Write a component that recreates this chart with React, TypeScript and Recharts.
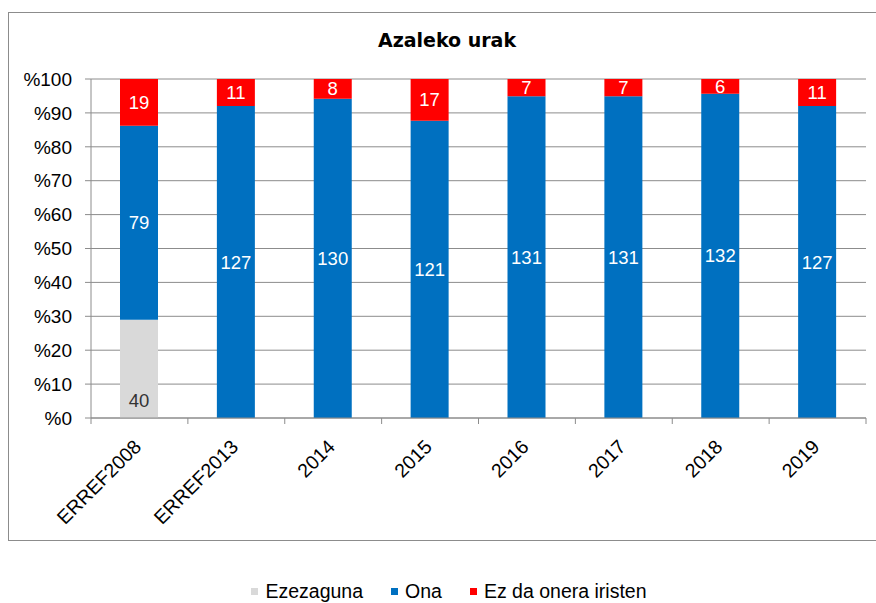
import React from "react";
import { BarChart, Bar, XAxis, YAxis, CartesianGrid, Legend } from "recharts";

const categories = ["ERREF2008", "ERREF2013", "2014", "2015", "2016", "2017", "2018", "2019"];
const ezezaguna = [40, 0, 0, 0, 0, 0, 0, 0];
const ona = [79, 127, 130, 121, 131, 131, 132, 127];
const ezOnera = [19, 11, 8, 17, 7, 7, 6, 11];
const yTicks = [0, 0.1, 0.2, 0.3, 0.4, 0.5, 0.6, 0.7, 0.8, 0.9, 1];

const seriesNames = ["Ezezaguna", "Ona", "Ez da onera iristen"];
const COLORS = { grey: "#d9d9d9", blue: "#0070c0", red: "#ff0000" };
const AXIS = "#8c8c8c";
const FONT = "'Liberation Sans', Arial, sans-serif";

const data = categories.map((cat, i) => ({
  cat,
  ezezaguna: ezezaguna[i],
  ona: ona[i],
  ezOnera: ezOnera[i],
}));

const PLOT_LEFT = 91;
const PLOT_RIGHT = 866;
const halfBand = (PLOT_RIGHT - PLOT_LEFT) / categories.length / 2;

function makeLabel(values: number[], color: string, bottom = false) {
  return (props: any) => {
    const { x, y, width, height, index } = props;
    const v = values[index];
    if (!v) return null;
    const cy = bottom ? y + height - 18 : y + height / 2;
    return (
      <text
        x={x + width / 2}
        y={cy}
        textAnchor="middle"
        dominantBaseline="central"
        fill={color}
        fontSize={18.5}
        fontFamily={FONT}
      >
        {v}
      </text>
    );
  };
}

function XTick(props: any) {
  const { x, y, payload, index } = props;
  const last = index === categories.length - 1;
  return (
    <g>
      <line x1={x - halfBand} y1={y - 6} x2={x - halfBand} y2={y} stroke={AXIS} />
      {last && <line x1={x + halfBand} y1={y - 6} x2={x + halfBand} y2={y} stroke={AXIS} />}
      <text
        x={x + 3}
        y={y + 24}
        transform={`rotate(-45, ${x + 3}, ${y + 24})`}
        textAnchor="end"
        fill="#000"
        fontSize={19.5}
        fontFamily={FONT}
      >
        {payload.value}
      </text>
    </g>
  );
}

function LegendContent() {
  const colors = [COLORS.grey, COLORS.blue, COLORS.red];
  return (
    <div
      style={{
        display: "flex",
        justifyContent: "center",
        alignItems: "center",
        gap: 28,
        paddingLeft: 32,
        fontFamily: FONT,
        fontSize: 19.5,
        color: "#000",
        height: 24,
      }}
    >
      {seriesNames.map((n, i) => (
        <div key={n} style={{ display: "flex", alignItems: "center", gap: 7 }}>
          <span style={{ width: 7, height: 7, background: colors[i], display: "inline-block" }} />
          <span>{n}</span>
        </div>
      ))}
    </div>
  );
}

export default function App() {
  return (
    <div style={{ position: "absolute", left: 0, top: 0, width: 876, height: 603, background: "#fff" }}>
      <div
        style={{
          position: "absolute",
          left: 8,
          top: 12,
          width: 868,
          height: 529,
          border: `1px solid ${AXIS}`,
          borderRight: "none",
          boxSizing: "border-box",
        }}
      />
      <div
        style={{
          position: "absolute",
          left: 0,
          top: 29,
          width: 894,
          textAlign: "center",
          fontFamily: "'DejaVu Sans', Verdana, sans-serif",
          fontWeight: "bold",
          fontSize: 19,
          color: "#000",
        }}
      >
        Azaleko urak
      </div>
      <div style={{ position: "absolute", left: 0, top: 0 }}>
        <BarChart
          width={876}
          height={603}
          data={data}
          stackOffset="expand"
          margin={{ top: 79, right: 876 - PLOT_RIGHT, left: 0, bottom: 0 }}
        >
          <CartesianGrid vertical={false} stroke={AXIS} strokeDasharray="" />
          <XAxis
            dataKey="cat"
            height={161}
            tickLine={false}
            tickSize={6}
            tickMargin={0}
            axisLine={{ stroke: AXIS }}
            tick={<XTick />}
            interval={0}
          />
          <YAxis
            width={PLOT_LEFT}
            domain={[0, 1]}
            ticks={yTicks}
            tickFormatter={(v: number) => `%${Math.round(v * 100)}`}
            axisLine={{ stroke: AXIS }}
            tickLine={{ stroke: AXIS }}
            tickSize={6}
            tickMargin={13}
            tick={{ fill: "#000", fontSize: 19, fontFamily: FONT }}
          />
          <Legend verticalAlign="bottom" height={24} content={<LegendContent />} />
          <Bar
            dataKey="ezezaguna"
            name={seriesNames[0]}
            stackId="a"
            fill={COLORS.grey}
            barSize={38}
            isAnimationActive={false}
            label={makeLabel(ezezaguna, "#333", true)}
          />
          <Bar
            dataKey="ona"
            name={seriesNames[1]}
            stackId="a"
            fill={COLORS.blue}
            barSize={38}
            isAnimationActive={false}
            label={makeLabel(ona, "#fff")}
          />
          <Bar
            dataKey="ezOnera"
            name={seriesNames[2]}
            stackId="a"
            fill={COLORS.red}
            barSize={38}
            isAnimationActive={false}
            label={makeLabel(ezOnera, "#fff")}
          />
        </BarChart>
      </div>
    </div>
  );
}
